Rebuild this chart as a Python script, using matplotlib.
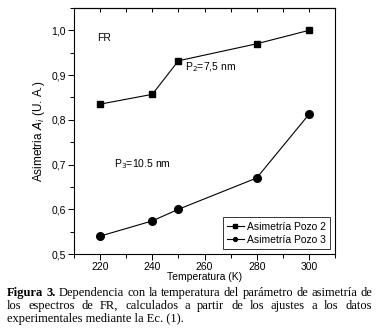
import numpy as np
import matplotlib
matplotlib.use('Agg')
import matplotlib.pyplot as plt
from matplotlib.ticker import MultipleLocator, FuncFormatter

# data
temperatura = [220, 240, 250, 280, 300]
pozo2 = [0.835, 0.857, 0.932, 0.970, 1.000]
pozo3 = [0.540, 0.574, 0.600, 0.670, 0.812]

plt.rcParams['font.family'] = ['Liberation Sans', 'DejaVu Sans']

fig = plt.figure(figsize=(3.79, 3.30), dpi=100)
ax = fig.add_axes([74/379, 1 - 254/330, 261/379, 246/330])

ax.plot(temperatura, pozo2, '-s', color='black', lw=0.8, ms=5, label='Asimetría Pozo 2')
ax.plot(temperatura, pozo3, '-o', color='black', lw=0.8, ms=5.5, label='Asimetría Pozo 3')

ax.set_xlim(210, 310)
ax.set_ylim(0.5, 1.05)
ax.xaxis.set_major_locator(MultipleLocator(20))
ax.xaxis.set_minor_locator(MultipleLocator(10))
ax.yaxis.set_major_locator(MultipleLocator(0.1))
ax.yaxis.set_minor_locator(MultipleLocator(0.05))
ax.yaxis.set_major_formatter(FuncFormatter(lambda v, p: ('%.1f' % v).replace('.', ',')))
ax.tick_params(which='both', direction='out', top=False, right=False, labelsize=7.5, width=0.7, pad=2)
ax.tick_params(which='major', length=4)
ax.tick_params(which='minor', length=3)
sec = ax.secondary_xaxis('top')
sec.xaxis.set_major_locator(MultipleLocator(20))
sec.xaxis.set_minor_locator(MultipleLocator(10))
sec.tick_params(which='both', direction='in', labeltop=False, length=3, width=0.7)
for s in ax.spines.values():
    s.set_linewidth(0.8)

ax.set_xlabel('Temperatura (K)', fontsize=7.5, labelpad=0)
ax.set_ylabel(r'Asimetria $A_i$ (U. A.)', fontsize=8.5, labelpad=3)

ax.text(218.8, 0.984, 'FR', fontsize=7.5, va='center')
ax.text(252.5, 0.917, r'P$_2$=7,5 nm', fontsize=7.5, va='center')
ax.text(225.3, 0.70, r'P$_3$=10.5 nm', fontsize=7.5, va='center')

leg = ax.legend(loc='lower right', fontsize=7.5, frameon=True, fancybox=False,
                edgecolor='black', handlelength=1.6, handletextpad=0.3,
                borderaxespad=0.5, markerscale=0.5, labelspacing=0.3,
                borderpad=0.4)
leg.get_frame().set_linewidth(0.7)

# caption, justified between x0 and x1 (pixels)
renderer = fig.canvas.get_renderer()
x0, x1 = 7, 372
cap = dict(fontsize=9.0, family='Liberation Serif', ha='left', va='center')

def justified(words, y, bold_first=False):
    texts = []
    for i, w in enumerate(words):
        fw = 'bold' if (bold_first and i < 2) else 'normal'
        texts.append(fig.text(0, 1 - y/330, w, fontweight=fw, **cap))
    widths = [t.get_window_extent(renderer).width for t in texts]
    gap = (x1 - x0 - sum(widths)) / (len(words) - 1)
    x = x0
    for t, wd in zip(texts, widths):
        t.set_x(x/379)
        x += wd + gap

justified('Figura 3. Dependencia con la temperatura del parámetro de asimetría de'.split(), 293, True)
justified('los espectros de FR, calculados a partir de los ajustes a los datos'.split(), 306)
fig.text(x0/379, 1 - 319/330, 'experimentales mediante la Ec. (1).', **cap)

fig.savefig('out.png', dpi=100)
